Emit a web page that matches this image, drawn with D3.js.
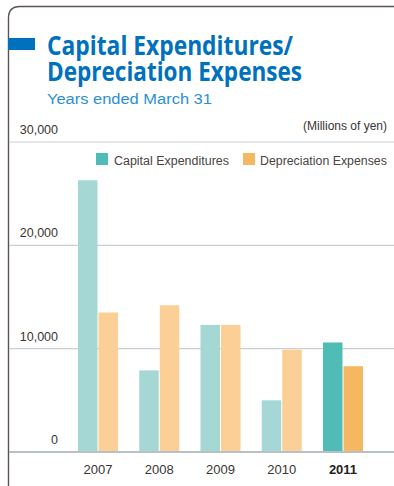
<!DOCTYPE html>
<html>
<head>
<meta charset="utf-8">
<script src="https://cdn.jsdelivr.net/npm/d3@7"></script>
<style>
  html, body { margin: 0; padding: 0; background: #fff; }
  svg { display: block; }
</style>
</head>
<body>
<svg id="chart" width="394" height="486"></svg>
<script>
// Fiscal years (ended March 31)
const years = ["2007", "2008", "2009", "2010", "2011"];
// Millions of yen
const capitalExpenditures = [26300, 7900, 12300, 5000, 10600];
const depreciationExpenses = [13500, 14200, 12300, 9900, 8300];
const yTicks = [0, 10000, 20000, 30000];
const seriesNames = ["Capital Expenditures", "Depreciation Expenses"];
const titleLines = ["Capital Expenditures/", "Depreciation Expenses"];

const svg = d3.select("#chart");
const W = 394, H = 486;

// Squeeze a text horizontally so that it spans exactly `width` px from x
function fitText(sel, x, width) {
  const natural = sel.node().getComputedTextLength();
  const k = width / natural;
  sel.attr("x", 0).attr("transform", `translate(${x},${sel.attr("y")}) scale(${k},1)`).attr("y", 0);
  return sel;
}

// Frame with rounded top-left corner
svg.append("path")
  .attr("d", "M8.5,486 L8.5,18 Q8.5,6.5 20,6.5 L394,6.5")
  .attr("fill", "none")
  .attr("stroke", "#5c5352")
  .attr("stroke-width", 1.4);

// Title block: two-line heading in a single text element
svg.append("rect").attr("x", 8).attr("y", 38).attr("width", 27).attr("height", 12).attr("fill", "#0071bc");
const title = svg.append("text")
  .attr("font-family", "'Open Sans', sans-serif").attr("font-weight", 700)
  .attr("font-size", 27).attr("fill", "#0071bc");
const titleWidths = [246, 255];
titleLines.forEach((line, i) => {
  title.append("tspan")
    .attr("x", 47).attr("y", 55 + i * 26)
    .attr("textLength", titleWidths[i]).attr("lengthAdjust", "spacingAndGlyphs")
    .text(line);
});
fitText(svg.append("text").attr("y", 104)
  .attr("font-family", "'Liberation Sans', Arial, sans-serif")
  .attr("font-size", 14.5).attr("fill", "#2b8fd3")
  .text("Years ended March 31"), 47, 165);

// Scales
const y = d3.scaleLinear().domain([0, 30000]).range([452, 142]);
const x0 = d3.scalePoint().domain(years).range([98, 343]);
const x1 = d3.scaleBand().domain(seriesNames).range([-20, 20]).paddingInner(0.05);

// Gridlines + labels
const grid = svg.append("g");
yTicks.forEach(t => {
  grid.append("line")
    .attr("x1", 9).attr("x2", W)
    .attr("y1", y(t)).attr("y2", y(t))
    .attr("stroke", t === 0 ? "#b7c0c5" : "#c9cfd3")
    .attr("stroke-width", t === 0 ? 2.2 : 1.1);
  grid.append("text")
    .attr("x", 58).attr("y", y(t) - 8)
    .attr("text-anchor", "end")
    .attr("font-family", "'Liberation Sans', Arial, sans-serif")
    .attr("font-size", 12.5).attr("fill", "#3a3433")
    .text(d3.format(",")(t));
});

svg.append("text").attr("x", 387).attr("y", 130).attr("text-anchor", "end")
  .attr("font-family", "'Liberation Sans', Arial, sans-serif")
  .attr("font-size", 12).attr("fill", "#3a3433")
  .text("(Millions of yen)");

// Legend
const colors = {
  light: ["#a5d8d4", "#fbcf96"],
  dark: ["#4fbcb5", "#f6b762"]
};
const legend = [
  { name: seriesNames[0], sx: 96, tx: 114, tw: 115 },
  { name: seriesNames[1], sx: 243, tx: 260, tw: 127 }
];
legend.forEach((l, i) => {
  svg.append("rect").attr("x", l.sx).attr("y", 153).attr("width", 12).attr("height", 12)
    .attr("fill", colors.dark[i]);
  fitText(svg.append("text").attr("y", 165)
    .attr("font-family", "'Liberation Sans Narrow', 'Liberation Sans', Arial, sans-serif")
    .attr("font-size", 13.5).attr("fill", "#4a4342")
    .text(l.name), l.tx, l.tw);
});

// Bars
const series = [capitalExpenditures, depreciationExpenses];
years.forEach((yr, gi) => {
  const isLatest = gi === years.length - 1;
  series.forEach((vals, si) => {
    svg.append("rect")
      .attr("x", x0(yr) + x1(seriesNames[si]))
      .attr("y", y(vals[gi]))
      .attr("width", x1.bandwidth())
      .attr("height", y(0) - 1 - y(vals[gi]))
      .attr("fill", isLatest ? colors.dark[si] : colors.light[si]);
  });
  svg.append("text")
    .attr("x", x0(yr)).attr("y", 474)
    .attr("text-anchor", "middle")
    .attr("font-family", "'Liberation Sans', Arial, sans-serif")
    .attr("font-size", 13)
    .attr("font-weight", isLatest ? 700 : 400)
    .attr("fill", isLatest ? "#231f20" : "#3a3433")
    .text(yr);
});
</script>
</body>
</html>
